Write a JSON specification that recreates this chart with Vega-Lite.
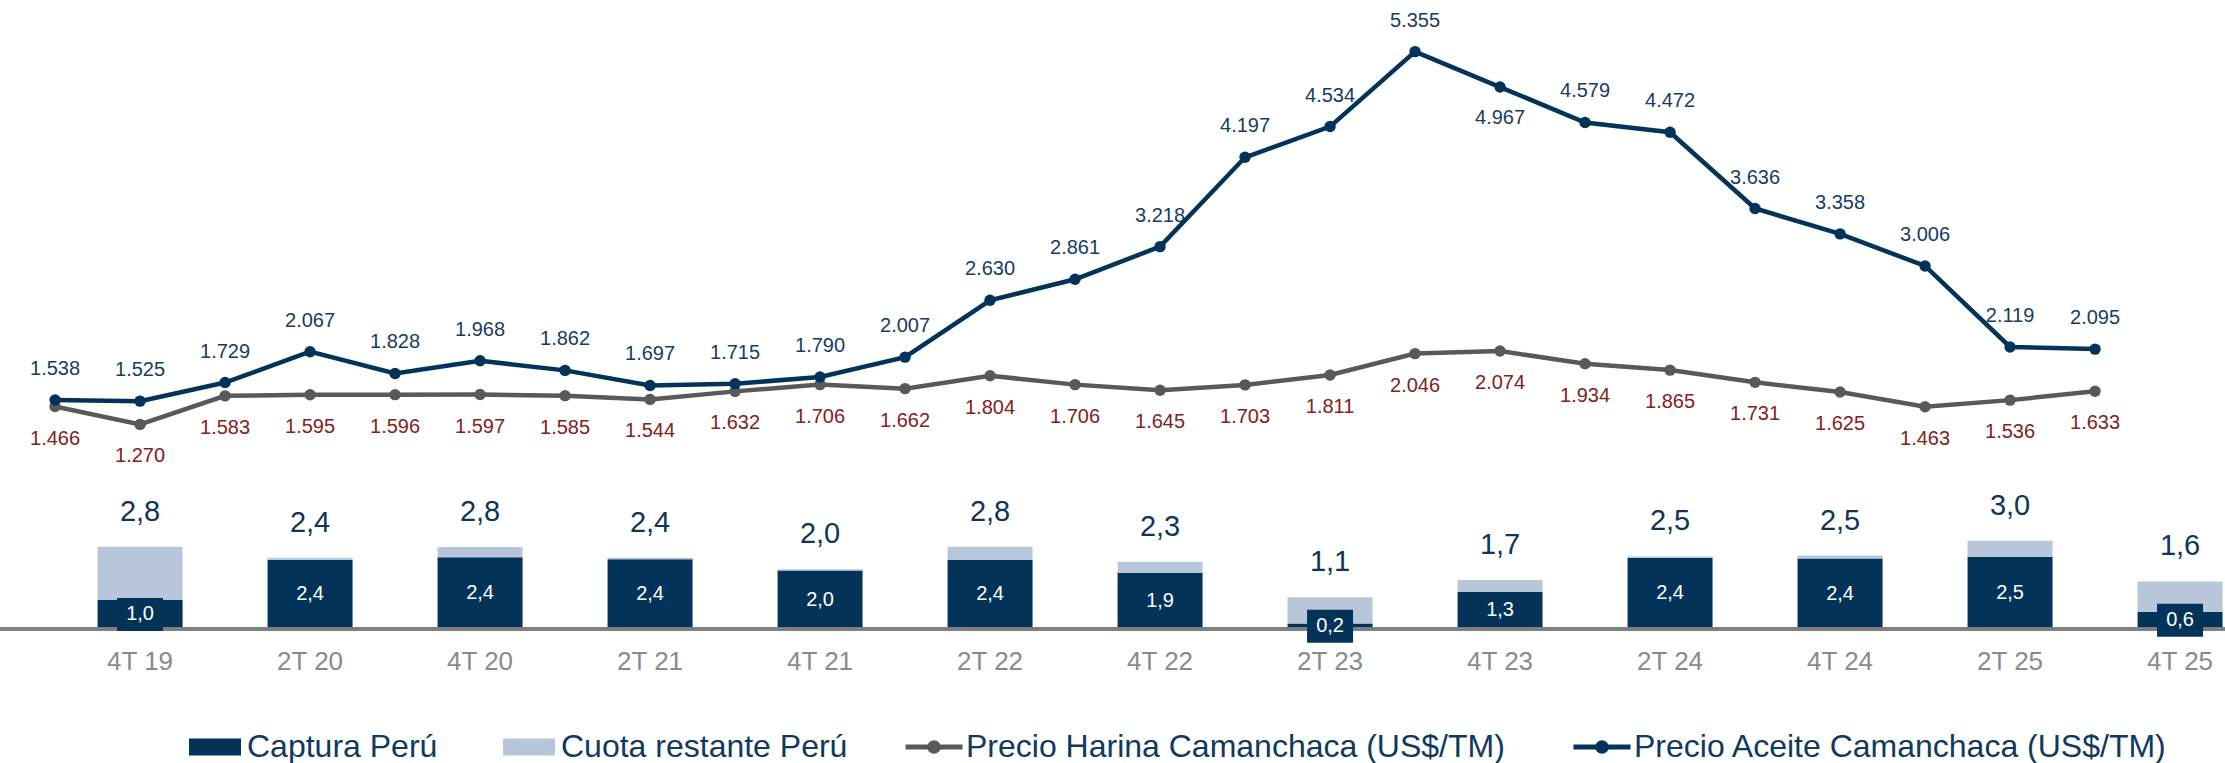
{
  "$schema": "https://vega.github.io/schema/vega-lite/v6.json",
  "width": 2225,
  "height": 763,
  "padding": 0,
  "autosize": {"type": "none"},
  "background": "white",
  "config": {
    "view": {"stroke": null},
    "font": "Liberation Sans",
    "locale": {"number": {"decimal": ",", "thousands": ".", "grouping": [3], "currency": ["$", ""]}}
  },
  "datasets": {
    "cuota": [
      {"periodo": "4T 19", "i": 1, "captura": 0.99, "restante": 1.81, "total": 2.8},
      {"periodo": "2T 20", "i": 3, "captura": 2.36, "restante": 0.06, "total": 2.42},
      {"periodo": "4T 20", "i": 5, "captura": 2.44, "restante": 0.35, "total": 2.79},
      {"periodo": "2T 21", "i": 7, "captura": 2.37, "restante": 0.05, "total": 2.42},
      {"periodo": "4T 21", "i": 9, "captura": 1.99, "restante": 0.04, "total": 2.03},
      {"periodo": "2T 22", "i": 11, "captura": 2.36, "restante": 0.44, "total": 2.8},
      {"periodo": "4T 22", "i": 13, "captura": 1.91, "restante": 0.38, "total": 2.29},
      {"periodo": "2T 23", "i": 15, "captura": 0.19, "restante": 0.89, "total": 1.08},
      {"periodo": "4T 23", "i": 17, "captura": 1.26, "restante": 0.41, "total": 1.67},
      {"periodo": "2T 24", "i": 19, "captura": 2.42, "restante": 0.05, "total": 2.47},
      {"periodo": "4T 24", "i": 21, "captura": 2.4, "restante": 0.1, "total": 2.5},
      {"periodo": "2T 25", "i": 23, "captura": 2.46, "restante": 0.54, "total": 3.0},
      {"periodo": "4T 25", "i": 25, "captura": 0.59, "restante": 1.03, "total": 1.62}
    ],
    "precios": [
      {"i": 0, "serie": "harina", "precio": 1466}, {"i": 0, "serie": "aceite", "precio": 1538},
      {"i": 1, "serie": "harina", "precio": 1270}, {"i": 1, "serie": "aceite", "precio": 1525},
      {"i": 2, "serie": "harina", "precio": 1583}, {"i": 2, "serie": "aceite", "precio": 1729},
      {"i": 3, "serie": "harina", "precio": 1595}, {"i": 3, "serie": "aceite", "precio": 2067},
      {"i": 4, "serie": "harina", "precio": 1596}, {"i": 4, "serie": "aceite", "precio": 1828},
      {"i": 5, "serie": "harina", "precio": 1597}, {"i": 5, "serie": "aceite", "precio": 1968},
      {"i": 6, "serie": "harina", "precio": 1585}, {"i": 6, "serie": "aceite", "precio": 1862},
      {"i": 7, "serie": "harina", "precio": 1544}, {"i": 7, "serie": "aceite", "precio": 1697},
      {"i": 8, "serie": "harina", "precio": 1632}, {"i": 8, "serie": "aceite", "precio": 1715},
      {"i": 9, "serie": "harina", "precio": 1706}, {"i": 9, "serie": "aceite", "precio": 1790},
      {"i": 10, "serie": "harina", "precio": 1662}, {"i": 10, "serie": "aceite", "precio": 2007},
      {"i": 11, "serie": "harina", "precio": 1804}, {"i": 11, "serie": "aceite", "precio": 2630},
      {"i": 12, "serie": "harina", "precio": 1706}, {"i": 12, "serie": "aceite", "precio": 2861},
      {"i": 13, "serie": "harina", "precio": 1645}, {"i": 13, "serie": "aceite", "precio": 3218},
      {"i": 14, "serie": "harina", "precio": 1703}, {"i": 14, "serie": "aceite", "precio": 4197},
      {"i": 15, "serie": "harina", "precio": 1811}, {"i": 15, "serie": "aceite", "precio": 4534},
      {"i": 16, "serie": "harina", "precio": 2046}, {"i": 16, "serie": "aceite", "precio": 5355},
      {"i": 17, "serie": "harina", "precio": 2074}, {"i": 17, "serie": "aceite", "precio": 4967},
      {"i": 18, "serie": "harina", "precio": 1934}, {"i": 18, "serie": "aceite", "precio": 4579},
      {"i": 19, "serie": "harina", "precio": 1865}, {"i": 19, "serie": "aceite", "precio": 4472},
      {"i": 20, "serie": "harina", "precio": 1731}, {"i": 20, "serie": "aceite", "precio": 3636},
      {"i": 21, "serie": "harina", "precio": 1625}, {"i": 21, "serie": "aceite", "precio": 3358},
      {"i": 22, "serie": "harina", "precio": 1463}, {"i": 22, "serie": "aceite", "precio": 3006},
      {"i": 23, "serie": "harina", "precio": 1536}, {"i": 23, "serie": "aceite", "precio": 2119},
      {"i": 24, "serie": "harina", "precio": 1633}, {"i": 24, "serie": "aceite", "precio": 2095}
    ]
  },
  "layer": [
    {
      "data": {"name": "cuota"},
      "layer": [
        {
          "transform": [{"fold": ["captura", "restante"], "as": ["serie", "valor"]}],
          "mark": {"type": "bar", "size": 85},
          "encoding": {
            "x": {"field": "i", "type": "quantitative", "scale": {"domain": [-0.589, 25.47], "nice": false, "zero": false}, "axis": null},
            "y": {"field": "valor", "type": "quantitative", "stack": "zero", "scale": {"domain": [-4.557, 21.395], "nice": false, "zero": false}, "axis": null},
            "fill": {
              "field": "serie", "type": "nominal",
              "scale": {"domain": ["captura", "restante"], "range": ["#04335A", "#B7C6D9"]},
              "legend": {
                "orient": "none", "legendX": 189, "legendY": 721, "direction": "horizontal", "title": null,
                "symbolType": "M-1,-0.33H1V0.33H-1Z", "symbolSize": 2704, "symbolStrokeWidth": 0, "symbolOpacity": 1,
                "labelFont": "Liberation Sans", "labelFontSize": 32, "labelColor": "#0F3A60", "labelOffset": 6,
                "columnPadding": 65, "labelLimit": 1000, "padding": 0,
                "labelExpr": "datum.label == 'captura' ? 'Captura Perú' : 'Cuota restante Perú'"
              }
            },
            "order": {"field": "serie", "sort": "ascending"}
          }
        },
        {
          "mark": {"type": "rule", "color": "#7F7F7F", "strokeWidth": 2.5},
          "encoding": {
            "y": {"datum": 0, "type": "quantitative", "scale": {"domain": [-4.557, 21.395], "nice": false, "zero": false}, "axis": null}
          }
        },
        {
          "mark": {"type": "text", "fontSize": 26, "color": "#8A8A8A", "dy": 33, "baseline": "middle"},
          "encoding": {
            "x": {"field": "i", "type": "quantitative", "scale": {"domain": [-0.589, 25.47], "nice": false, "zero": false}, "axis": null},
            "y": {"datum": 0, "type": "quantitative", "scale": {"domain": [-4.557, 21.395], "nice": false, "zero": false}, "axis": null},
            "text": {"field": "periodo"}
          }
        },
        {
          "mark": {"type": "text", "fontSize": 29, "color": "#0E355A", "dy": -35, "baseline": "middle"},
          "encoding": {
            "x": {"field": "i", "type": "quantitative", "scale": {"domain": [-0.589, 25.47], "nice": false, "zero": false}, "axis": null},
            "y": {"field": "total", "type": "quantitative", "scale": {"domain": [-4.557, 21.395], "nice": false, "zero": false}, "axis": null},
            "text": {"field": "total", "type": "quantitative", "format": ".1f"}
          }
        },
        {
          "transform": [{"calculate": "datum.captura / 2", "as": "mid"}],
          "mark": {"type": "point", "shape": "M-1,-0.717L1,-0.717L1,0.717L-1,0.717Z", "size": 2116, "filled": true, "opacity": 1, "color": "#04335A", "strokeWidth": 0},
          "encoding": {
            "x": {"field": "i", "type": "quantitative", "scale": {"domain": [-0.589, 25.47], "nice": false, "zero": false}, "axis": null},
            "y": {"field": "mid", "type": "quantitative", "scale": {"domain": [-4.557, 21.395], "nice": false, "zero": false}, "axis": null}
          }
        },
        {
          "transform": [{"calculate": "datum.captura / 2", "as": "mid"}],
          "mark": {"type": "text", "fontSize": 20, "color": "#FFFFFF", "baseline": "middle"},
          "encoding": {
            "x": {"field": "i", "type": "quantitative", "scale": {"domain": [-0.589, 25.47], "nice": false, "zero": false}, "axis": null},
            "y": {"field": "mid", "type": "quantitative", "scale": {"domain": [-4.557, 21.395], "nice": false, "zero": false}, "axis": null},
            "text": {"field": "captura", "type": "quantitative", "format": ".1f"}
          }
        }
      ]
    },
    {
      "data": {"name": "precios"},
      "layer": [
        {
          "transform": [{"filter": "datum.serie == 'harina'"}],
          "mark": {"type": "line", "strokeWidth": 4.5, "point": {"filled": true, "size": 130}},
          "encoding": {
            "x": {"field": "i", "type": "quantitative", "scale": {"domain": [-0.589, 25.47], "nice": false, "zero": false}, "axis": null},
            "y": {"field": "precio", "type": "quantitative", "scale": {"domain": [-2440.6, 5921], "nice": false, "zero": false}, "axis": null},
            "color": {
              "field": "serie", "type": "nominal",
              "scale": {"domain": ["harina", "aceite"], "range": ["#595959", "#04335A"]},
              "legend": {
                "orient": "none", "legendX": 903, "legendY": 716, "direction": "horizontal", "title": null,
                "symbolType": "M-1,0H1M0.15,0A0.15,0.15 0 1,1 -0.15,0A0.15,0.15 0 1,1 0.15,0", "symbolSize": 3249, "symbolStrokeWidth": 5, "symbolOpacity": 1,
                "labelFont": "Liberation Sans", "labelFontSize": 32, "labelColor": "#0F3A60", "labelOffset": 1,
                "columnPadding": 58, "labelLimit": 1000, "padding": 0,
                "labelExpr": "datum.label == 'harina' ? 'Precio Harina Camanchaca (US$/TM)' : 'Precio Aceite Camanchaca (US$/TM)'"
              }
            }
          }
        },
        {
          "transform": [{"filter": "datum.serie == 'aceite'"}],
          "mark": {"type": "line", "strokeWidth": 4.5, "point": {"filled": true, "size": 130}},
          "encoding": {
            "x": {"field": "i", "type": "quantitative", "scale": {"domain": [-0.589, 25.47], "nice": false, "zero": false}, "axis": null},
            "y": {"field": "precio", "type": "quantitative", "scale": {"domain": [-2440.6, 5921], "nice": false, "zero": false}, "axis": null},
            "color": {
              "field": "serie", "type": "nominal",
              "scale": {"domain": ["harina", "aceite"], "range": ["#595959", "#04335A"]},
              "legend": {
                "orient": "none", "legendX": 903, "legendY": 716, "direction": "horizontal", "title": null,
                "symbolType": "M-1,0H1M0.15,0A0.15,0.15 0 1,1 -0.15,0A0.15,0.15 0 1,1 0.15,0", "symbolSize": 3249, "symbolStrokeWidth": 5, "symbolOpacity": 1,
                "labelFont": "Liberation Sans", "labelFontSize": 32, "labelColor": "#0F3A60", "labelOffset": 1,
                "columnPadding": 58, "labelLimit": 1000, "padding": 0,
                "labelExpr": "datum.label == 'harina' ? 'Precio Harina Camanchaca (US$/TM)' : 'Precio Aceite Camanchaca (US$/TM)'"
              }
            }
          }
        },
        {
          "transform": [{"filter": "datum.serie == 'harina'"}],
          "mark": {"type": "text", "fontSize": 20, "color": "#842020", "dy": 32, "baseline": "middle"},
          "encoding": {
            "x": {"field": "i", "type": "quantitative", "scale": {"domain": [-0.589, 25.47], "nice": false, "zero": false}, "axis": null},
            "y": {"field": "precio", "type": "quantitative", "scale": {"domain": [-2440.6, 5921], "nice": false, "zero": false}, "axis": null},
            "text": {"field": "precio", "type": "quantitative", "format": ",d"}
          }
        },
        {
          "transform": [{"filter": "datum.serie == 'aceite' && datum.i != 17"}],
          "mark": {"type": "text", "fontSize": 20, "color": "#173C63", "dy": -31, "baseline": "middle"},
          "encoding": {
            "x": {"field": "i", "type": "quantitative", "scale": {"domain": [-0.589, 25.47], "nice": false, "zero": false}, "axis": null},
            "y": {"field": "precio", "type": "quantitative", "scale": {"domain": [-2440.6, 5921], "nice": false, "zero": false}, "axis": null},
            "text": {"field": "precio", "type": "quantitative", "format": ",d"}
          }
        },
        {
          "transform": [{"filter": "datum.serie == 'aceite' && datum.i == 17"}],
          "mark": {"type": "text", "fontSize": 20, "color": "#173C63", "dy": 31, "baseline": "middle"},
          "encoding": {
            "x": {"field": "i", "type": "quantitative", "scale": {"domain": [-0.589, 25.47], "nice": false, "zero": false}, "axis": null},
            "y": {"field": "precio", "type": "quantitative", "scale": {"domain": [-2440.6, 5921], "nice": false, "zero": false}, "axis": null},
            "text": {"field": "precio", "type": "quantitative", "format": ",d"}
          }
        }
      ]
    }
  ],
  "resolve": {"scale": {"y": "independent"}}
}
